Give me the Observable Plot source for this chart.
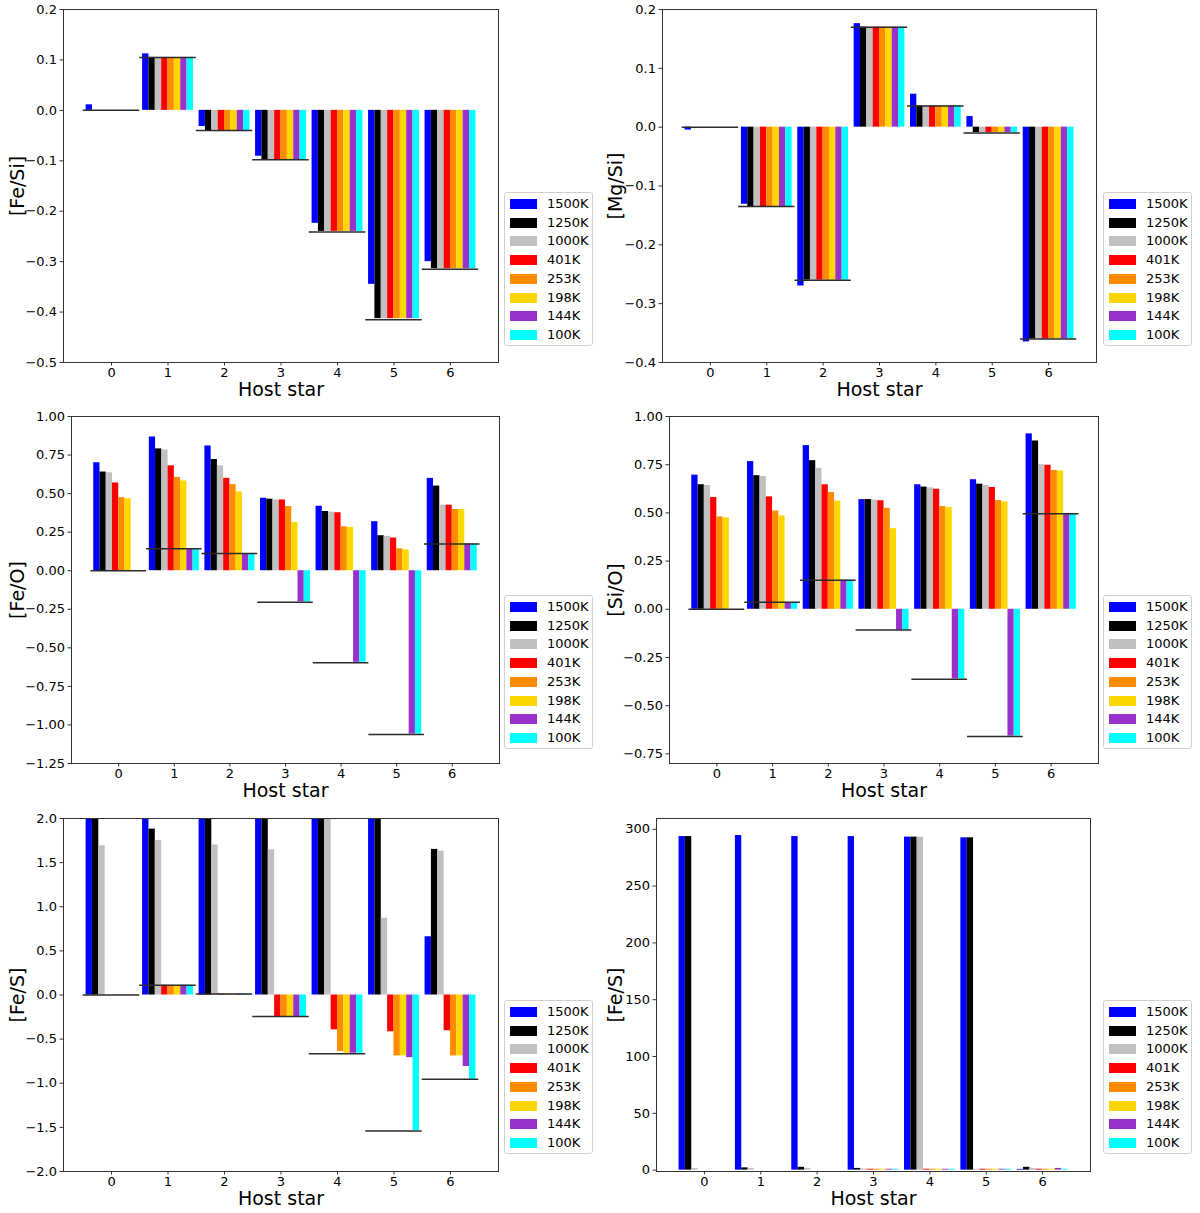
<!DOCTYPE html>
<html>
<head>
<meta charset="utf-8">
<script src="https://cdn.jsdelivr.net/npm/d3@7"></script>
<script src="https://cdn.jsdelivr.net/npm/@observablehq/plot@0.6"></script>
<style>
  body { margin: 0; background: #fff; font-family: "DejaVu Sans", sans-serif; }
  #root { position: relative; width: 1200px; height: 1213px; background: #fff; }
  .panel { position: absolute; }
  .legend { position: absolute; width: 89px; height: 154px; box-sizing: border-box;
            border: 1px solid #d0d0d0; border-radius: 3px; background: #fff; }
  .legend .sw { position: absolute; left: 5px; width: 27px; height: 10px; }
  .legend .lb { position: absolute; left: 42px; font-size: 13px; line-height: 14px; color: #000; }
</style>
</head>
<body>
<div id="root"></div>
<script>
// ---- categories / series ----
const stars = [0, 1, 2, 3, 4, 5, 6];
const temps = ["1500K", "1250K", "1000K", "401K", "253K", "198K", "144K", "100K"];
const colors = ["#0000ff", "#000000", "#c0c0c0", "#ff0000", "#ff8c00", "#ffd700", "#9932cc", "#00ffff"];

// ---- [Fe/Si] (rows = host star, columns = temps) ----
const feSi = [
  [0.011, 0, 0, 0, 0, 0, 0, 0],
  [0.112, 0.105, 0.105, 0.105, 0.105, 0.105, 0.105, 0.105],
  [-0.032, -0.040, -0.039, -0.040, -0.040, -0.040, -0.040, -0.040],
  [-0.091, -0.098, -0.098, -0.098, -0.098, -0.098, -0.098, -0.098],
  [-0.224, -0.240, -0.240, -0.240, -0.240, -0.240, -0.240, -0.240],
  [-0.345, -0.413, -0.413, -0.413, -0.413, -0.413, -0.413, -0.413],
  [-0.300, -0.314, -0.314, -0.314, -0.314, -0.314, -0.314, -0.314]
];
const feSiRef = [0, 0.105, -0.040, -0.098, -0.241, -0.415, -0.315];

// ---- [Mg/Si] ----
const mgSi = [
  [-0.005, 0, 0, 0, 0, 0, 0, 0],
  [-0.131, -0.135, -0.135, -0.135, -0.135, -0.135, -0.135, -0.135],
  [-0.270, -0.260, -0.260, -0.260, -0.260, -0.260, -0.260, -0.260],
  [0.176, 0.170, 0.170, 0.170, 0.170, 0.170, 0.170, 0.170],
  [0.056, 0.036, 0.036, 0.036, 0.036, 0.036, 0.036, 0.036],
  [0.018, -0.009, -0.009, -0.009, -0.009, -0.009, -0.009, -0.009],
  [-0.365, -0.360, -0.360, -0.360, -0.360, -0.360, -0.360, -0.360]
];
const mgSiRef = [0, -0.135, -0.260, 0.170, 0.036, -0.010, -0.360];

// ---- [Fe/O] ----
const feO = [
  [0.700, 0.640, 0.635, 0.569, 0.474, 0.466, 0, 0],
  [0.867, 0.790, 0.783, 0.680, 0.605, 0.582, 0.137, 0.137],
  [0.809, 0.721, 0.680, 0.599, 0.558, 0.511, 0.109, 0.109],
  [0.470, 0.464, 0.459, 0.459, 0.416, 0.313, -0.202, -0.202],
  [0.418, 0.384, 0.380, 0.376, 0.285, 0.281, -0.594, -0.594],
  [0.318, 0.227, 0.223, 0.212, 0.142, 0.135, -1.060, -1.060],
  [0.599, 0.549, 0.425, 0.425, 0.397, 0.397, 0.174, 0.174]
];
const feORef = [0, 0.142, 0.112, -0.204, -0.597, -1.062, 0.174];

// ---- [Si/O] ----
const siO = [
  [0.696, 0.646, 0.642, 0.580, 0.479, 0.474, 0, 0],
  [0.766, 0.693, 0.689, 0.583, 0.510, 0.484, 0.035, 0.035],
  [0.849, 0.771, 0.731, 0.646, 0.606, 0.561, 0.151, 0.151],
  [0.569, 0.569, 0.566, 0.563, 0.524, 0.418, -0.108, -0.108],
  [0.646, 0.634, 0.630, 0.623, 0.533, 0.528, -0.361, -0.361],
  [0.672, 0.649, 0.642, 0.632, 0.564, 0.557, -0.658, -0.658],
  [0.910, 0.873, 0.750, 0.747, 0.720, 0.717, 0.493, 0.493]
];
const siORef = [0, 0.036, 0.151, -0.108, -0.363, -0.660, 0.495];

// ---- [Fe/S] (log, clipped at 2.0 in the figure) ----
const feS = [
  [2.47, 2.47, 1.69, 0, 0, 0, 0, 0],
  [2.47, 1.88, 1.75, 0.11, 0.11, 0.11, 0.11, 0.11],
  [2.47, 2.47, 1.70, 0.01, 0.01, 0.01, 0.01, 0.01],
  [2.47, 2.47, 1.645, -0.243, -0.243, -0.243, -0.243, -0.243],
  [2.47, 2.47, 2.47, -0.395, -0.640, -0.660, -0.660, -0.660],
  [2.47, 2.47, 0.87, -0.417, -0.690, -0.690, -0.710, -1.535],
  [0.66, 1.65, 1.63, -0.405, -0.690, -0.690, -0.810, -0.955]
];
const feSRef = [0, 0.11, 0.01, -0.245, -0.667, -1.54, -0.955];

// ---- [Fe/S] (linear) ----
const feSLin = [
  [293.6, 293.6, 1.5, 0, 0, 0, 0, 0],
  [294.5, 2.0, 1.5, 0, 0, 0, 0, 0],
  [293.6, 2.5, 1.5, 0, 0, 0, 0, 0],
  [293.6, 1.5, 1.0, 0.8, 0.8, 0.8, 0.8, 0.8],
  [293.1, 293.1, 293.1, 0.8, 0.8, 0.8, 0.8, 0.8],
  [292.5, 292.5, 0.8, 0.8, 0.8, 0.8, 0.8, 0.8],
  [0.7, 2.5, 1.5, 0.8, 0.8, 0.8, 1.5, 0.8]
];

// ---- y-axis ticks ----
const ticksFeSi = [-0.5, -0.4, -0.3, -0.2, -0.1, 0.0, 0.1, 0.2];
const ticksMgSi = [-0.4, -0.3, -0.2, -0.1, 0.0, 0.1, 0.2];
const ticksFeO = [-1.25, -1.0, -0.75, -0.5, -0.25, 0, 0.25, 0.5, 0.75, 1.0];
const ticksSiO = [-0.75, -0.5, -0.25, 0, 0.25, 0.5, 0.75, 1.0];
const ticksFeS = [-2.0, -1.5, -1.0, -0.5, 0.0, 0.5, 1.0, 1.5, 2.0];
const ticksFeSLin = [0, 50, 100, 150, 200, 250, 300];

const groupWidth = 0.9;
const barW = groupWidth / temps.length;

const panels = [
  {vals: feSi, ref: feSiRef, label: "[Fe/Si]", domain: [-0.5, 0.2], ticks: ticksFeSi, fmt: ".1f",
   left: 0, top: 0, w: 505, h: 400, mL: 63, mR: 7, mT: 9, mB: 38, labelX: 17, legTop: 192},
  {vals: mgSi, ref: mgSiRef, label: "[Mg/Si]", domain: [-0.4, 0.2], ticks: ticksMgSi, fmt: ".1f",
   left: 598, top: 0, w: 505, h: 400, mL: 64, mR: 7, mT: 9, mB: 38, labelX: 17, legTop: 192},
  {vals: feO, ref: feORef, label: "[Fe/O]", domain: [-1.25, 1.0], ticks: ticksFeO, fmt: ".2f",
   left: 0, top: 400, w: 505, h: 400, mL: 71, mR: 6, mT: 16, mB: 37, labelX: 17, legTop: 595},
  {vals: siO, ref: siORef, label: "[Si/O]", domain: [-0.8, 1.0], ticks: ticksSiO, fmt: ".2f",
   left: 598, top: 400, w: 505, h: 400, mL: 71, mR: 5, mT: 16, mB: 37, labelX: 17, legTop: 595},
  {vals: feS, ref: feSRef, label: "[Fe/S]", domain: [-2.0, 2.0], ticks: ticksFeS, fmt: ".1f",
   left: 0, top: 805, w: 505, h: 405, mL: 63, mR: 7, mT: 13, mB: 39, labelX: 17, legTop: 1000},
  {vals: feSLin, ref: null, label: "[Fe/S]", domain: [-1.2, 309.5], ticks: ticksFeSLin, fmt: "d",
   left: 598, top: 805, w: 505, h: 405, mL: 58, mR: 13, mT: 13, mB: 39, labelX: 17, legTop: 1000}
];

const root = document.getElementById("root");

panels.forEach((p, pi) => {
  const rows = stars.flatMap((s, i) => temps.map((t, j) => ({star: s, k: j, temp: t, value: p.vals[i][j]})));
  const refs = p.ref ? stars.map((s, i) => ({star: s, value: p.ref[i]})) : [];
  const marks = [
    Plot.rect(rows, {
      x1: d => d.star - groupWidth / 2 + d.k * barW,
      x2: d => d.star - groupWidth / 2 + (d.k + 1) * barW,
      y1: 0, y2: "value", fill: "temp", clip: true
    }),
    Plot.ruleY(refs, {y: "value", x1: d => d.star - 0.5, x2: d => d.star + 0.5,
      stroke: "#2a2a2a", strokeWidth: 1.5, clip: true}),
    Plot.frame({stroke: "#333", strokeWidth: 1}),
    Plot.axisX({ticks: stars, tickFormat: d3.format("d"), tickSize: 3.5, tickPadding: 1.5,
      fontSize: 13, label: null, stroke: "#333"}),
    Plot.axisY({ticks: p.ticks, tickFormat: d3.format(p.fmt), tickSize: 3.5, tickPadding: 3,
      fontSize: 13, label: null, stroke: "#333"}),
    Plot.text(["Host star"], {frameAnchor: "bottom", dy: 27, lineAnchor: "middle",
      fontSize: 19, fill: "#000"}),
    Plot.text([p.label], {frameAnchor: "left", dx: p.labelX - p.mL, rotate: -90,
      lineAnchor: "middle", textAnchor: "middle", fontSize: 19, fill: "#000"})
  ];
  const svg = Plot.plot({
    width: p.w, height: p.h,
    marginLeft: p.mL, marginRight: p.mR, marginTop: p.mT, marginBottom: p.mB,
    x: {type: "linear", domain: [-0.85, 6.85], axis: null},
    y: {domain: p.domain, axis: null},
    color: {domain: temps, range: colors},
    style: {fontFamily: "DejaVu Sans, sans-serif", background: "transparent", color: "#000", overflow: "visible"},
    marks
  });
  svg.classList.add("panel");
  svg.style.left = p.left + "px";
  svg.style.top = p.top + "px";
  root.appendChild(svg);

  // legend
  const leg = document.createElement("div");
  leg.className = "legend";
  leg.style.left = (p.left + 504) + "px";
  if (pi % 2 === 1) leg.style.left = "1103px";
  leg.style.top = p.legTop + "px";
  temps.forEach((t, j) => {
    const cy = 11 + j * 18.7;
    const sw = document.createElement("div");
    sw.className = "sw";
    sw.style.top = (cy - 5) + "px";
    sw.style.background = colors[j];
    const lb = document.createElement("div");
    lb.className = "lb";
    lb.style.top = (cy - 7) + "px";
    lb.textContent = t;
    leg.appendChild(sw);
    leg.appendChild(lb);
  });
  root.appendChild(leg);
});
</script>
</body>
</html>
